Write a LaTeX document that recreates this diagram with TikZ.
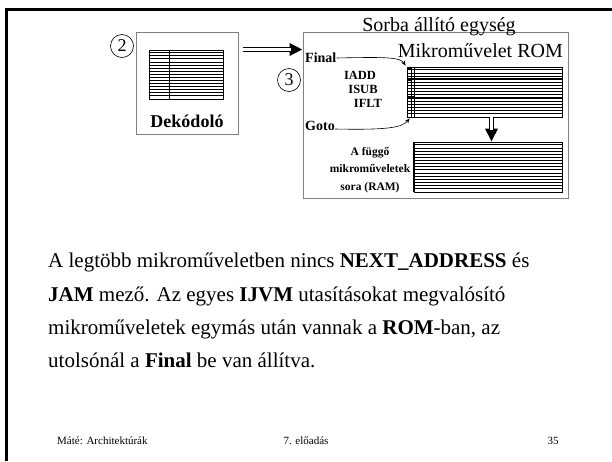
\documentclass[tikz,border=0pt]{standalone}
\usepackage{fontspec}
\setmainfont{Liberation Serif}
\definecolor{framegray}{RGB}{128,128,128}
\usetikzlibrary{arrows.meta,positioning}

\begin{document}
\begin{tikzpicture}[x=1pt,y=-1pt,
  panel/.style={draw=framegray,line width=1pt,inner sep=0pt},
  tblbox/.style={draw,line width=0.8pt,inner sep=0pt},
  numcircle/.style={circle,draw,line width=0.6pt,inner sep=0pt,minimum size=23pt,font=\fontsize{18}{18}\selectfont},
  lbl/.style={font=\fontsize{12.5}{14}\selectfont\bfseries,inner sep=0pt},
  bigtext/.style={font=\fontsize{20}{24}\selectfont,inner sep=0pt},
  dblarrow/.style={line width=5pt,-{Triangle[length=13pt,width=12pt]}},
  dblcore/.style={white,line width=2.4pt,shorten >=12pt},
  thinarrow/.style={line width=0.6pt,-{Stealth[length=5pt,width=4pt]}}]

  \useasboundingbox (0,0) rectangle (612,461);
  % slide frame
  \draw[line width=3pt] (6,461) -- (6,9.5) -- (612,9.5);

  % decoder
  \node[panel,minimum size=102] (dekodolo) at (187,83) {};
  \node[tblbox,minimum width=74,minimum height=49] (dektbl) at (186,74.5) {};
  \foreach \i in {1,...,15}
    \draw[line width=0.6pt] ([yshift=-\i*3.06pt]dektbl.north west) -- ([yshift=-\i*3.06pt]dektbl.north east);
  \draw[line width=0.6pt] ([xshift=21pt]dektbl.north west) -- ([xshift=21pt]dektbl.south west);
  \node[font=\fontsize{18}{20}\selectfont\bfseries,inner sep=0pt] (dekcim) at (187,121) {Dekódoló};
  \node[numcircle] (n2) at (122,46) {2};

  % sequencer unit
  \node[panel,minimum width=265,minimum height=166] (sorba) at (435.5,115) {};
  \node[bigtext,anchor=base] (sorbacim) at (439,31) {Sorba állító egység};
  \node[bigtext,anchor=base east] (romcim) at (563,57) {Mikroművelet ROM};
  \node[numcircle] (n3) at (289,80) {3};

  % ROM
  \node[tblbox,minimum width=155,minimum height=50] (rom) at (484.5,92) {};
  \foreach \i in {1,...,15}
    \draw[line width=0.6pt] ([yshift=-\i*3.125pt]rom.north west) -- ([yshift=-\i*3.125pt]rom.north east);
  \foreach \i in {4,10}
    \draw[line width=1.6pt] ([yshift=-\i*3.125pt]rom.north west) -- ([yshift=-\i*3.125pt]rom.north east);
  \foreach \dx in {4.5,8}
    \draw[line width=0.6pt] ([xshift=\dx pt]rom.north west) -- ([xshift=\dx pt]rom.south west);
  \fill (rom.north west) rectangle ++(4.5,3.1);
  \fill ([yshift=-11.5pt]rom.north west) rectangle ++(4.5,2.5);
  \fill ([yshift=-29pt]rom.north west) rectangle ++(8,3.5);

  \node[lbl,anchor=west,font=\fontsize{14}{16}\selectfont\bfseries] (final) at (305,58) {Final};
  \node[lbl] (iadd) at (360,75) {IADD};
  \node[lbl] (isub) at (363,89) {ISUB};
  \node[lbl] (iflt) at (368,103) {IFLT};
  \node[lbl,anchor=west,font=\fontsize{14}{16}\selectfont\bfseries] (goto) at (305,126) {Goto};
  \draw[thinarrow] (final.east) .. controls (385,57) and (400,57) .. ([xshift=-1pt,yshift=1pt]rom.north west);
  \draw[thinarrow] ([yshift=-3pt]goto.east) .. controls (385,130) and (402,128) .. ([xshift=3pt,yshift=-1pt]rom.south west);

  % RAM
  \node[tblbox,minimum width=148,minimum height=50] (ram) at (488,167) {};
  \foreach \i in {1,...,15}
    \draw[line width=0.6pt] ([yshift=-\i*3.125pt]ram.north west) -- ([yshift=-\i*3.125pt]ram.north east);
  \draw[line width=1.6pt] (ram.north west) -- (ram.south west);
  \node[lbl,align=center,font=\fontsize{11.5}{17.5}\selectfont\bfseries] (ramcim) at (370,170) {A függő\\mikroműveletek\\sora (RAM)};

  % arrows
  \draw[dblarrow] ([xshift=4pt,yshift=-18pt]dekodolo.north east) -- ([yshift=-18pt]sorba.north west);
  \draw[dblcore] ([xshift=4pt,yshift=-18pt]dekodolo.north east) -- ([yshift=-18pt]sorba.north west);
  \draw[dblarrow] ([xshift=7pt]rom.south) -- ([xshift=7pt]rom.south |- ram.north);
  \draw[dblcore] ([xshift=7pt]rom.south) -- ([xshift=7pt]rom.south |- ram.north);

  % body text
  \node[anchor=north west,align=left,inner sep=0pt,font=\fontsize{21}{33.3}\selectfont] (szoveg) at (48,253)
    {A legtöbb mikroműveletben nincs \textbf{NEXT\_ADDRESS} és\\
     \textbf{JAM} mező. Az egyes \textbf{IJVM} utasításokat megvalósító\\
     mikroműveletek egymás után vannak a \textbf{ROM}-ban, az\\
     utolsónál a \textbf{Final} be van állítva.};

  % footer
  \node[font=\fontsize{11}{13}\selectfont,anchor=west,inner sep=0pt] (szerzo) at (57,441) {Máté: Architektúrák};
  \node[font=\fontsize{11}{13}\selectfont,inner sep=0pt] (eloadas) at (306,441) {7. előadás};
  \node[font=\fontsize{11}{13}\selectfont,inner sep=0pt] (oldal) at (553,441) {35};
\end{tikzpicture}
\end{document}
